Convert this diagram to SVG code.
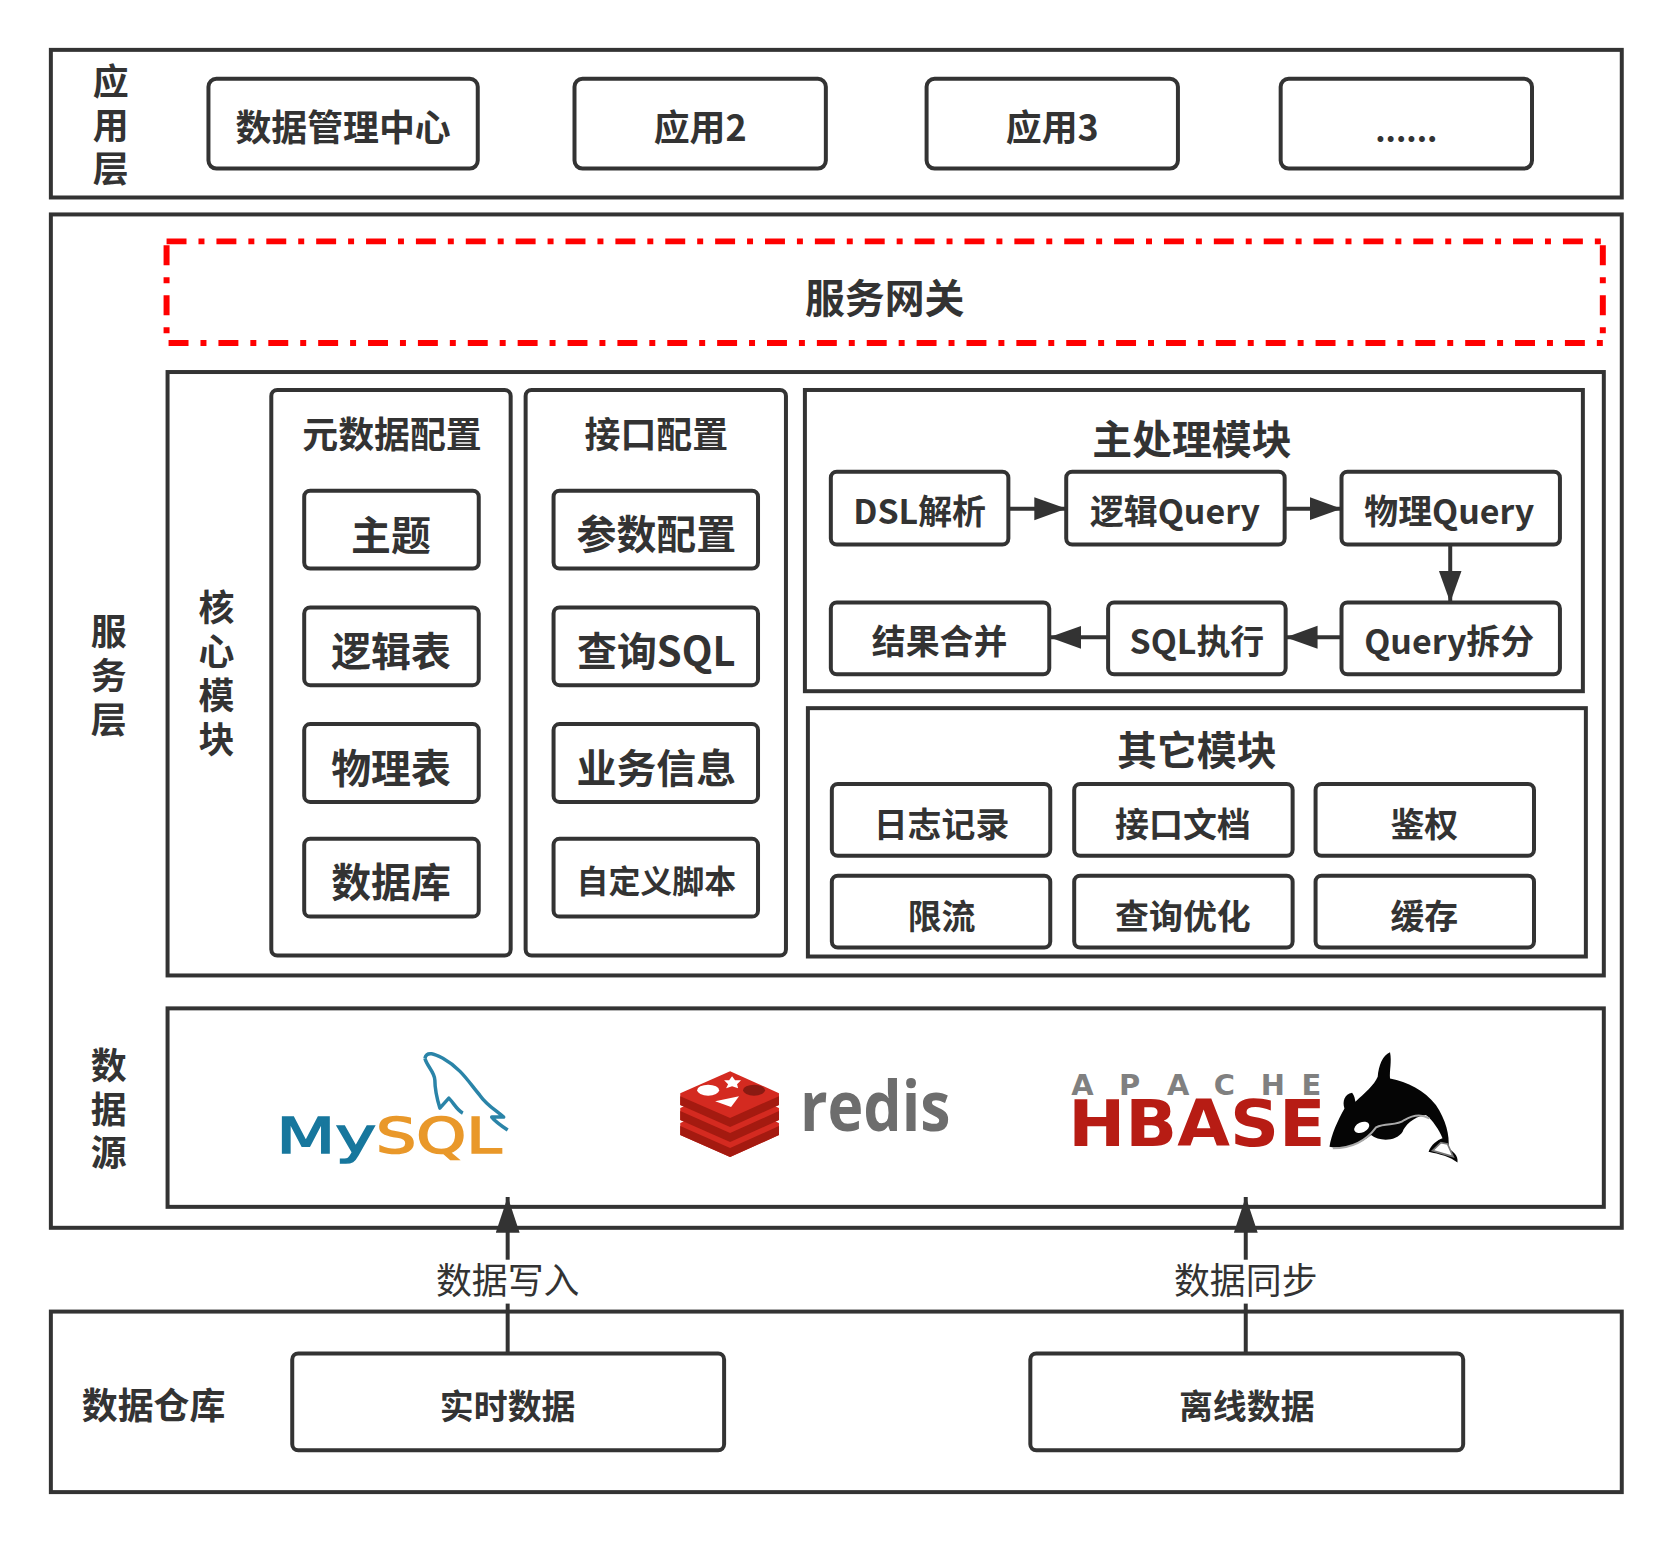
<svg xmlns="http://www.w3.org/2000/svg" width="1672" height="1542" viewBox="0 0 1672 1542">
<style>
text{font-family:"Noto Sans CJK SC","Noto Sans",sans-serif;fill:#333;font-weight:700;text-anchor:middle;dominant-baseline:central;transform:translateY(-2.5px)}
.s{fill:#fff;stroke:#333;stroke-width:4}
.n{fill:#fff;stroke:#333;stroke-width:4}
.t36{font-size:36px}.t40{font-size:40px}.t34{font-size:34px}.t32{font-size:32px}
.lb{font-weight:400;font-size:36px}
.c{fill:none;stroke:#333;stroke-width:4}
.red{fill:none;stroke:#f00;stroke-width:6;stroke-dasharray:20 12 6 12}
.logo{text-anchor:start;dominant-baseline:alphabetic;transform:none}
.rf{fill:#d42a20}.rd{fill:#a41a10}
</style>
<defs>
<marker id="a" markerUnits="userSpaceOnUse" markerWidth="32" markerHeight="24" refX="32" refY="12" orient="auto"><path d="M0,0.5L32,12L0,23.5Z" fill="#333"/></marker>
<marker id="b" markerUnits="userSpaceOnUse" markerWidth="36" markerHeight="24" refX="36" refY="12" orient="auto"><path d="M0,0L36,12L0,24Z" fill="#333"/></marker>
</defs>
<g transform="scale(.9974)">
<g id="app-layer">
<rect class="s" x="51" y="50" width="1575" height="148"/>
<text class="t36" x="111" y="82">应</text><text class="t36" x="111" y="126">用</text><text class="t36" x="111" y="169">层</text>
</g>
<g id="app-1"><rect class="n" x="209" y="79" width="270" height="90" rx="8"/><text class="t36" x="344" y="128">数据管理中心</text></g>
<g id="app-2"><rect class="n" x="576" y="79" width="252" height="90" rx="8"/><text class="t36" x="702" y="128">应用2</text></g>
<g id="app-3"><rect class="n" x="929" y="79" width="252" height="90" rx="8"/><text class="t36" x="1055" y="128">应用3</text></g>
<g id="app-4"><rect class="n" x="1284" y="79" width="252" height="90" rx="8"/><text class="t32" x="1410" y="131">......</text></g>
<g id="service-layer">
<rect class="s" x="51" y="215" width="1575" height="1016"/>
<text class="t36" x="109" y="633">服</text><text class="t36" x="109" y="677">务</text><text class="t36" x="109" y="721">层</text>
<text class="t36" x="109" y="1068">数</text><text class="t36" x="109" y="1112">据</text><text class="t36" x="109" y="1156">源</text>
</g>
<g id="gateway">
<path class="red" d="M167,242H1607"/><path class="red" d="M167,246V344"/><path class="red" d="M169,344H1607"/><path class="red" d="M1607,246V344"/>
<text class="t40" x="887" y="299">服务网关</text>
</g>
<g id="core">
<rect class="s" x="168" y="373" width="1440" height="605"/>
<text class="t36" x="217" y="609">核</text><text class="t36" x="217" y="653">心</text><text class="t36" x="217" y="697">模</text><text class="t36" x="217" y="741">块</text>
</g>
<g id="metadata"><rect class="n" x="272" y="391" width="240" height="567" rx="6"/><text class="t36" x="393" y="436">元数据配置</text></g>
<g id="m1"><rect class="n" x="305" y="492" width="175" height="78" rx="6"/><text class="t40" x="392" y="536">主题</text></g>
<g id="m2"><rect class="n" x="305" y="609" width="175" height="78" rx="6"/><text class="t40" x="392" y="653">逻辑表</text></g>
<g id="m3"><rect class="n" x="305" y="726" width="175" height="78" rx="6"/><text class="t40" x="392" y="770">物理表</text></g>
<g id="m4"><rect class="n" x="305" y="841" width="175" height="78" rx="6"/><text class="t40" x="392" y="884">数据库</text></g>
<g id="interface"><rect class="n" x="527" y="391" width="261" height="567" rx="6"/><text class="t36" x="658" y="436">接口配置</text></g>
<g id="i1"><rect class="n" x="555" y="492" width="205" height="78" rx="6"/><text class="t40" x="658" y="535">参数配置</text></g>
<g id="i2"><rect class="n" x="555" y="609" width="205" height="78" rx="6"/><text class="t40" x="658" y="653">查询SQL</text></g>
<g id="i3"><rect class="n" x="555" y="726" width="205" height="78" rx="6"/><text class="t40" x="658" y="770">业务信息</text></g>
<g id="i4"><rect class="n" x="555" y="841" width="205" height="78" rx="6"/><text class="t32" x="658" y="884">自定义脚本</text></g>
<g id="main-module"><rect class="s" x="807" y="391" width="780" height="302"/><text class="t40" x="1195" y="440">主处理模块</text></g>
<g id="p1"><rect class="n" x="833" y="473" width="178" height="73" rx="6"/><text class="t34" x="922" y="513">DSL解析</text></g>
<g id="p2"><rect class="n" x="1069" y="473" width="219" height="73" rx="6"/><text class="t34" x="1178" y="513">逻辑Query</text></g>
<g id="p3"><rect class="n" x="1345" y="473" width="219" height="73" rx="6"/><text class="t34" x="1453" y="513">物理Query</text></g>
<g id="p4"><rect class="n" x="1345" y="604" width="219" height="72" rx="6"/><text class="t34" x="1453" y="644">Query拆分</text></g>
<g id="p5"><rect class="n" x="1111" y="604" width="178" height="72" rx="6"/><text class="t34" x="1200" y="644">SQL执行</text></g>
<g id="p6"><rect class="n" x="833" y="604" width="219" height="72" rx="6"/><text class="t34" x="942" y="644">结果合并</text></g>
<g id="other-module"><rect class="s" x="810" y="710" width="780" height="249"/><text class="t40" x="1200" y="752">其它模块</text></g>
<g id="o1"><rect class="n" x="834" y="786" width="219" height="72" rx="6"/><text class="t34" x="944" y="827">日志记录</text></g>
<g id="o2"><rect class="n" x="1077" y="786" width="219" height="72" rx="6"/><text class="t34" x="1186" y="827">接口文档</text></g>
<g id="o3"><rect class="n" x="1319" y="786" width="219" height="72" rx="6"/><text class="t34" x="1428" y="827">鉴权</text></g>
<g id="o4"><rect class="n" x="834" y="878" width="219" height="72" rx="6"/><text class="t34" x="944" y="919">限流</text></g>
<g id="o5"><rect class="n" x="1077" y="878" width="219" height="72" rx="6"/><text class="t34" x="1186" y="919">查询优化</text></g>
<g id="o6"><rect class="n" x="1319" y="878" width="219" height="72" rx="6"/><text class="t34" x="1428" y="919">缓存</text></g>
<g id="storage"><rect class="s" x="168" y="1011" width="1440" height="199"/></g>
<g id="mysql">
<path transform="translate(0 3)" d="M426,1058C428,1050 436,1054 444,1058C462,1068 470,1082 481,1095C488,1105 497,1110 505,1117L493,1117C497,1122 503,1126 509,1130M426,1058C428,1066 436,1072 436,1080C436,1090 438,1098 441,1108L450,1098C455,1103 458,1110 464,1113" fill="none" stroke="#2a84a8" stroke-width="3.5" stroke-linejoin="round"/>
<text class="logo" x="277" y="1156" font-size="50" textLength="100" lengthAdjust="spacingAndGlyphs" stroke="#17779d" stroke-width="1.6" style="fill:#17779d;font-family:'DejaVu Sans';font-weight:400">My</text>
<text class="logo" x="377" y="1156" font-size="50" textLength="126" lengthAdjust="spacingAndGlyphs" stroke="#e9982a" stroke-width="1.6" style="fill:#e9982a;font-family:'DejaVu Sans';font-weight:400">SQL</text>
</g>
<g id="redis" transform="translate(2 2)">
<path class="rf" d="M680,1124L730,1102L779,1124V1136L730,1158L680,1136Z"/><path class="rd" d="M680,1127L730,1149L779,1127V1136L730,1158L680,1136Z"/>
<path class="rf" d="M680,1109L730,1087L779,1109V1121L730,1143L680,1121Z"/><path class="rd" d="M680,1112L730,1134L779,1112V1121L730,1143L680,1121Z"/>
<path class="rf" d="M680,1094L730,1072L779,1094V1106L730,1128L680,1106Z"/><path class="rd" d="M680,1097L730,1119L779,1097V1106L730,1128L680,1106Z"/>
<ellipse cx="708" cy="1091" rx="11" ry="5.5" fill="#fff"/>
<path d="M732,1077L735,1081L741,1081L737,1085L738,1089L732,1087L726,1089L728,1085L724,1081L729,1081Z" fill="#fff"/>
<path d="M715,1102L739,1097L731,1108Z" fill="#fff"/>
<ellipse cx="754" cy="1091" rx="11" ry="5.5" fill="#8a1a12"/>
<text class="logo" x="800" y="1132" font-size="70" textLength="151" lengthAdjust="spacingAndGlyphs" style="fill:#6d6d6d;font-family:'Open Sans';font-weight:700">redis</text>
</g>
<g id="hbase">
<text class="logo" x="1074 1122 1170 1217 1264 1305" y="1098" font-size="29" style="fill:#808080;font-family:'DejaVu Sans';font-weight:700">APACHE</text>
<text class="logo" x="1071" y="1149" font-size="64" textLength="258" lengthAdjust="spacingAndGlyphs" style="fill:#b71c14;font-family:'DejaVu Sans';font-weight:700">HBASE</text>
<g transform="translate(1003 1023) scale(.3333)">
<path d="M990,380C995,345 1015,300 1035,265C1028,245 1035,222 1058,218C1066,228 1066,238 1068,245C1095,220 1125,195 1135,170C1138,135 1150,105 1172,96C1178,125 1170,150 1172,175C1225,185 1275,210 1310,255C1340,300 1352,345 1348,385C1360,395 1378,405 1375,428C1355,410 1320,402 1288,395C1295,375 1315,360 1330,355C1320,330 1300,300 1280,285C1240,290 1215,320 1210,335C1190,365 1140,365 1115,345C1085,370 1040,390 990,380Z" fill="#050505"/>
<ellipse cx="1087" cy="322" rx="24" ry="15" transform="rotate(-25 1087 322)" fill="#fff"/>
<path d="M1000,385C1050,385 1095,370 1130,322C1160,305 1190,320 1215,300C1240,285 1265,280 1290,295" fill="none" stroke="#aaa" stroke-width="6"/>
<path d="M1300,392L1325,368L1345,372L1362,410Z" fill="#fff" stroke="#777" stroke-width="5"/>
</g>
</g>
<g id="warehouse">
<rect class="s" x="51" y="1315" width="1575" height="181"/>
<text class="t36" x="154" y="1409">数据仓库</text>
</g>
<g id="w1"><rect class="n" x="293" y="1357" width="433" height="97" rx="6"/><text class="t34" x="509" y="1411">实时数据</text></g>
<g id="w2"><rect class="n" x="1033" y="1357" width="434" height="97" rx="6"/><text class="t34" x="1250" y="1411">离线数据</text></g>
<g id="connectors">
<path class="c" marker-end="url(#a)" d="M1011,510H1069"/>
<path class="c" marker-end="url(#a)" d="M1288,510H1345"/>
<path class="c" marker-end="url(#a)" d="M1454,546V604"/>
<path class="c" marker-end="url(#a)" d="M1345,639H1289"/>
<path class="c" marker-end="url(#a)" d="M1111,639H1052"/>
<path class="c" marker-end="url(#b)" d="M509,1357V1200"/>
<path class="c" marker-end="url(#b)" d="M1249,1357V1200"/>
<rect x="435" y="1263" width="148" height="44" fill="#fff"/>
<text class="lb" x="509" y="1284">数据写入</text>
<rect x="1175" y="1263" width="148" height="44" fill="#fff"/>
<text class="lb" x="1249" y="1284">数据同步</text>
</g>
</g>
</svg>
